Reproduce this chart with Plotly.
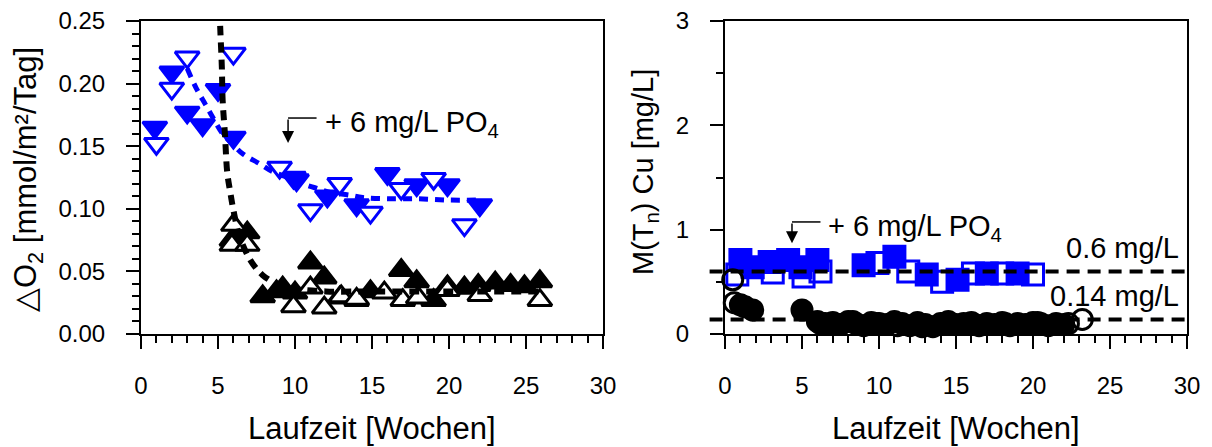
import plotly.graph_objects as go

# ---- left panel: oxygen consumption rate ----
o2_blue_filled_x = [0.9, 2.0, 3.0, 4.0, 5.0, 6.0, 9.9, 10.1, 12.1, 14.0, 16.0, 17.9, 19.9, 22.0]
o2_blue_filled_y = [0.165, 0.209, 0.177, 0.167, 0.195, 0.157, 0.125, 0.123, 0.110, 0.103, 0.128, 0.119, 0.119, 0.103]
o2_blue_open_x = [1.0, 2.0, 3.0, 6.0, 9.0, 11.0, 12.9, 14.9, 16.9, 19.0, 21.0]
o2_blue_open_y = [0.152, 0.196, 0.221, 0.224, 0.133, 0.099, 0.120, 0.097, 0.116, 0.124, 0.087]
o2_blue_fit_x = [3.0, 3.6, 4.2, 4.8, 5.3, 6.0, 6.6, 7.7, 8.5, 9.5, 10.5, 11.5, 12.3, 13.5, 14.4, 16.0, 18.0, 20.0, 22.0]
o2_blue_fit_y = [0.212, 0.196, 0.183, 0.170, 0.160, 0.151, 0.144, 0.136, 0.130, 0.125, 0.120, 0.116, 0.113, 0.111, 0.109, 0.108, 0.108, 0.107, 0.107]

o2_black_filled_x = [5.9, 6.2, 6.9, 7.9, 8.8, 9.2, 10.0, 11.0, 11.9, 12.9, 14.0, 14.9, 16.9, 17.9, 19.0, 19.9, 21.0, 21.9, 23.0, 24.0, 24.9, 25.9]
o2_black_filled_y = [0.075, 0.079, 0.081, 0.030, 0.034, 0.037, 0.033, 0.057, 0.045, 0.029, 0.027, 0.034, 0.051, 0.042, 0.027, 0.038, 0.037, 0.039, 0.041, 0.039, 0.038, 0.042]
o2_black_open_x = [6.0, 5.9, 6.9, 9.9, 11.0, 11.9, 13.0, 14.0, 15.8, 17.0, 18.0, 19.9, 22.0, 25.9]
o2_black_open_y = [0.087, 0.071, 0.071, 0.022, 0.037, 0.021, 0.030, 0.028, 0.033, 0.027, 0.029, 0.035, 0.031, 0.027]
o2_black_fit_x = [5.1, 5.15, 5.25, 5.3, 5.45, 5.6, 5.8, 6.0, 6.4, 7.1, 7.9, 9.0, 10.0, 12.0, 15.0, 20.0, 26.0]
o2_black_fit_y = [0.26, 0.243, 0.213, 0.187, 0.160, 0.129, 0.113, 0.099, 0.078, 0.059, 0.047, 0.039, 0.036, 0.034, 0.034, 0.034, 0.034]

# ---- right panel: copper concentration ----
cu_blue_filled_x = [1.0, 1.8, 2.9, 4.1, 4.9, 6.0, 9.0, 11.0, 13.1, 15.1, 17.0, 19.0]
cu_blue_filled_y = [0.71, 0.64, 0.69, 0.71, 0.64, 0.71, 0.66, 0.74, 0.57, 0.52, 0.58, 0.58]
cu_blue_open_x = [0.8, 3.1, 5.1, 6.2, 9.9, 11.9, 14.1, 16.1, 18.0, 20.0]
cu_blue_open_y = [0.57, 0.59, 0.55, 0.60, 0.68, 0.60, 0.50, 0.58, 0.58, 0.57]

cu_black_filled_x = [1.0, 1.8, 5.0, 6.0, 6.5, 7.0, 7.5, 8.0, 8.5, 9.0, 9.5, 10.0, 10.5, 11.0, 11.5, 12.0,
                     12.5, 13.0, 13.5, 14.0, 14.5, 15.0, 15.5, 16.0, 16.5, 17.0, 17.5, 18.0, 18.5, 19.0,
                     19.5, 20.0, 20.5, 21.0, 21.5, 22.0]
cu_black_filled_y = [0.28, 0.23, 0.23, 0.12, 0.10, 0.11, 0.09, 0.12, 0.10, 0.08, 0.11, 0.10, 0.09, 0.12, 0.10, 0.08,
                     0.11, 0.09, 0.07, 0.10, 0.12, 0.09, 0.10, 0.11, 0.08, 0.10, 0.09, 0.11, 0.08, 0.10,
                     0.09, 0.11, 0.10, 0.08, 0.10, 0.09]
cu_black_open_x = [0.5, 0.6, 1.3, 6.2, 7.2, 8.3, 9.8, 11.2, 12.8, 14.3, 16.2, 18.2, 20.3, 22.3, 23.2]
cu_black_open_y = [0.52, 0.30, 0.26, 0.10, 0.09, 0.12, 0.10, 0.08, 0.07, 0.10, 0.09, 0.10, 0.11, 0.10, 0.14]

cu_limits = [0.6, 0.14]
cu_limit_labels = ["0.6 mg/L", "0.14 mg/L"]

x_ticks = [0, 5, 10, 15, 20, 25, 30]
o2_ticks = [0.00, 0.05, 0.10, 0.15, 0.20, 0.25]
cu_ticks = [0, 1, 2, 3]

BLUE = "#0000FF"
BLACK = "#000000"
FONT = "Liberation Sans, Arial, sans-serif"

fig = go.Figure()


def markers(x, y, symbol, color, filled, xa, ya, size):
    fig.add_trace(go.Scatter(
        x=x, y=y, mode="markers", xaxis=xa, yaxis=ya, cliponaxis=False,
        marker=dict(symbol=symbol, size=size,
                    color=color if filled else "white",
                    line=dict(color=color, width=3)),
        showlegend=False, hoverinfo="skip"))


# left panel markers and fit curves
markers(o2_blue_filled_x, o2_blue_filled_y, "triangle-down", BLUE, True, "x", "y", 21)
markers(o2_blue_open_x, o2_blue_open_y, "triangle-down", BLUE, False, "x", "y", 21)
markers(o2_black_filled_x, o2_black_filled_y, "triangle-up", BLACK, True, "x", "y", 21)
markers(o2_black_open_x, o2_black_open_y, "triangle-up", BLACK, False, "x", "y", 21)
fig.add_trace(go.Scatter(x=o2_blue_fit_x, y=o2_blue_fit_y, mode="lines", xaxis="x", yaxis="y",
                         line=dict(color=BLUE, width=5, dash="9px,7px", shape="spline"),
                         showlegend=False, hoverinfo="skip"))
fig.add_trace(go.Scatter(x=o2_black_fit_x, y=o2_black_fit_y, mode="lines", xaxis="x", yaxis="y",
                         line=dict(color=BLACK, width=6, dash="10px,7px", shape="spline"),
                         showlegend=False, hoverinfo="skip"))

# right panel markers
fig.add_trace(go.Scatter(x=cu_blue_filled_x, y=cu_blue_filled_y, mode="markers", xaxis="x2", yaxis="y2",
                         cliponaxis=False,
                         marker=dict(symbol="square", size=21, color=BLUE, line=dict(color=BLUE, width=3)),
                         showlegend=False, hoverinfo="skip"))
fig.add_trace(go.Scatter(x=cu_blue_open_x, y=cu_blue_open_y, mode="markers", xaxis="x2", yaxis="y2",
                         cliponaxis=False,
                         marker=dict(symbol="square-open", size=21, color=BLUE, line=dict(color=BLUE, width=3)),
                         showlegend=False, hoverinfo="skip"))
fig.add_trace(go.Scatter(x=cu_black_filled_x, y=cu_black_filled_y, mode="markers", xaxis="x2", yaxis="y2",
                         cliponaxis=False,
                         marker=dict(symbol="circle", size=20, color=BLACK, line=dict(color=BLACK, width=3)),
                         showlegend=False, hoverinfo="skip"))
fig.add_trace(go.Scatter(x=cu_black_open_x, y=cu_black_open_y, mode="markers", xaxis="x2", yaxis="y2",
                         cliponaxis=False,
                         marker=dict(symbol="circle-open", size=20, color=BLACK, line=dict(color=BLACK, width=3)),
                         showlegend=False, hoverinfo="skip"))

# limit lines with labels
for val, lab in zip(cu_limits, cu_limit_labels):
    fig.add_shape(type="line", xref="x2 domain", yref="y2", x0=-1 / 30, x1=1, y0=val, y1=val,
                  line=dict(color=BLACK, width=4, dash="13px,8px"))
    fig.add_annotation(x=29.6, y=val, xref="x2", yref="y2", text=lab, showarrow=False,
                       xanchor="right", yanchor="bottom", yshift=5,
                       font=dict(size=29, family=FONT, color=BLACK))


# phosphate dosing markers: elbow arrow + text
def dosing(xa, ya, x_tip, y_bend, y_tip, x_end, font_size):
    fig.add_shape(type="line", xref=xa, yref=ya, x0=x_tip, x1=x_end, y0=y_bend, y1=y_bend,
                  line=dict(color=BLACK, width=1.5))
    fig.add_annotation(x=x_tip, y=y_tip, ax=x_tip, ay=y_bend, xref=xa, yref=ya, axref=xa, ayref=ya,
                       showarrow=True, arrowhead=2, arrowsize=1.6, arrowwidth=1.5, arrowcolor=BLACK, text="")
    fig.add_annotation(x=x_end, y=y_bend, xref=xa, yref=ya, text="+ 6 mg/L PO<sub>4</sub>",
                       showarrow=False, xanchor="left", yanchor="middle", xshift=6, yshift=-6,
                       font=dict(size=font_size, family=FONT, color=BLACK))


dosing("x", "y", 9.55, 0.1725, 0.1525, 11.4, 29)
dosing("x2", "y2", 4.35, 1.074, 0.87, 6.2, 29)

axis_common = dict(showline=True, linecolor=BLACK, linewidth=2, mirror=True,
                   ticks="outside", ticklen=13, tickwidth=1.5, tickcolor=BLACK,
                   showgrid=False, zeroline=False, automargin=False,
                   tickfont=dict(size=24, family=FONT, color=BLACK))

fig.update_layout(
    width=1212, height=447,
    margin=dict(l=0, r=0, t=0, b=0),
    paper_bgcolor="white", plot_bgcolor="white",
    xaxis=dict(domain=[141 / 1212, 603 / 1212], range=[0, 30], tickvals=x_ticks, anchor="y",
               minor=dict(dtick=1, ticks="outside", ticklen=7, tickwidth=1.5, tickcolor=BLACK),
               ticklabelstandoff=16, **axis_common),
    yaxis=dict(domain=[1 - 334 / 447, 1 - 21 / 447], range=[0, 0.25], tickvals=o2_ticks,
               tickformat=".2f", anchor="x",
               minor=dict(dtick=0.01, ticks="outside", ticklen=7, tickwidth=1.5, tickcolor=BLACK),
               ticklabelstandoff=16, **axis_common),
    xaxis2=dict(domain=[725 / 1212, 1187 / 1212], range=[0, 30], tickvals=x_ticks, anchor="y2",
                minor=dict(dtick=1, ticks="outside", ticklen=7, tickwidth=1.5, tickcolor=BLACK),
                ticklabelstandoff=16, **axis_common),
    yaxis2=dict(domain=[1 - 334 / 447, 1 - 21 / 447], range=[0, 3], tickvals=cu_ticks, anchor="x2",
                minor=dict(dtick=0.5, ticks="outside", ticklen=7, tickwidth=1.5, tickcolor=BLACK),
                ticklabelstandoff=16, **axis_common),
)

# axis titles
title_font = dict(size=31, family=FONT, color=BLACK)
fig.add_annotation(x=372 / 1212, y=1 - 428 / 447, xref="paper", yref="paper", text="Laufzeit [Wochen]",
                   showarrow=False, xanchor="center", yanchor="middle", font=title_font)
fig.add_annotation(x=956 / 1212, y=1 - 428 / 447, xref="paper", yref="paper", text="Laufzeit [Wochen]",
                   showarrow=False, xanchor="center", yanchor="middle", font=title_font)
fig.add_annotation(x=28 / 1212, y=1 - 180 / 447, xref="paper", yref="paper",
                   text="△O<sub>2</sub> [mmol/m²/Tag]", textangle=-90,
                   showarrow=False, xanchor="center", yanchor="middle", font=dict(size=31, family=FONT, color=BLACK))
fig.add_annotation(x=645 / 1212, y=1 - 172 / 447, xref="paper", yref="paper",
                   text="M(T<sub>n</sub>) Cu [mg/L]", textangle=-90,
                   showarrow=False, xanchor="center", yanchor="middle", font=dict(size=29, family=FONT, color=BLACK))

fig.write_html("out.html")
